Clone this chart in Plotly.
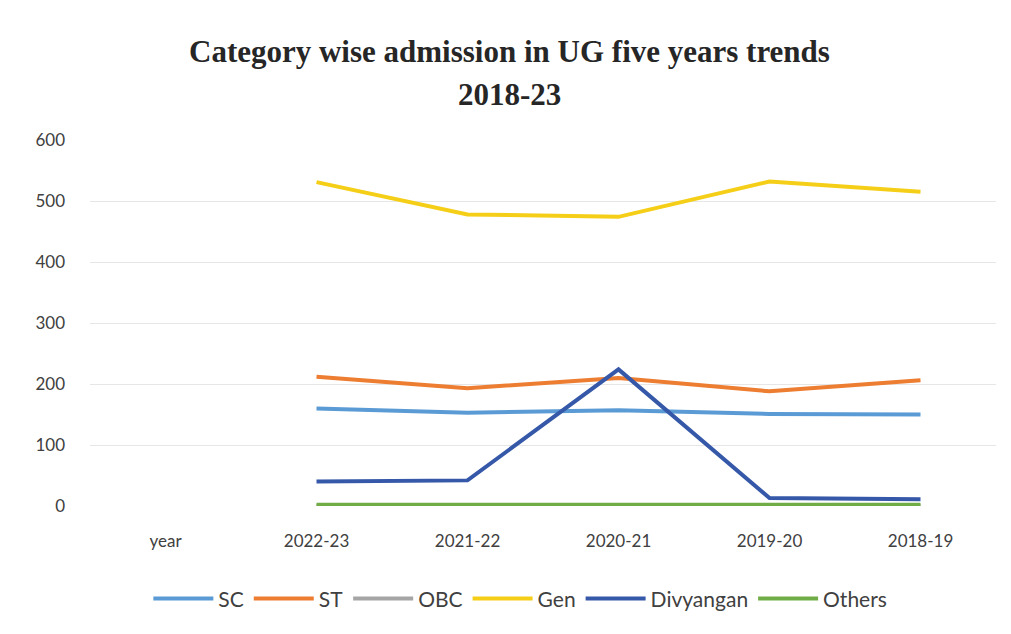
import plotly.graph_objects as go

categories = ["year", "2022-23", "2021-22", "2020-21", "2019-20", "2018-19"]
sc = [None, 160, 153, 157, 151, 150]
st = [None, 212, 193, 210, 188, 206]
obc = [None, 0, 0, 0, 0, 0]
gen = [None, 531, 478, 474, 532, 515]
divyangan = [None, 40, 42, 224, 13, 11]
others = [None, 2, 2, 2, 2, 2]

series = [
    ("SC", sc, "#5B9BD5"),
    ("ST", st, "#ED7D31"),
    ("OBC", obc, "#A5A5A5"),
    ("Gen", gen, "#F5CE18"),
    ("Divyangan", divyangan, "#3558A8"),
    ("Others", others, "#70AD47"),
]

fig = go.Figure()
for name, vals, color in series:
    fig.add_trace(go.Scatter(
        x=categories, y=vals, name=name, mode="lines",
        line=dict(color=color, width=4), connectgaps=False,
    ))

tick_font = dict(family="Lato, Liberation Sans, sans-serif", size=17, color="#404040")
title_font = dict(family="Liberation Serif, Times New Roman, serif", size=31, color="#262626")
cx = (501 - 82) / 906

fig.update_layout(
    width=1011, height=634,
    margin=dict(l=82, r=23, t=132, b=136),
    paper_bgcolor="white", plot_bgcolor="white",
    showlegend=True,
    legend=dict(orientation="h", x=0.475, xanchor="center", y=-0.254, yanchor="middle",
                font=dict(family="Lato, Liberation Sans, sans-serif", size=21, color="#404040"),
                itemwidth=60, tracegroupgap=0),
    annotations=[
        dict(text="<b>Category wise admission in UG five years trends</b>", xref="paper", yref="paper",
             x=cx, y=1 + (145 - 44 - 13) / 366, xanchor="center", yanchor="middle",
             showarrow=False, font=title_font),
        dict(text="<b>2018-23</b>", xref="paper", yref="paper",
             x=cx, y=1 + (145 - 86 - 13) / 366, xanchor="center", yanchor="middle",
             showarrow=False, font=title_font),
    ],
)
fig.update_xaxes(type="category", range=[-0.5, 5.5], showgrid=False, showline=False, zeroline=False,
                 tickfont=tick_font, ticks="", ticklabelstandoff=23)
fig.update_yaxes(range=[0, 600], dtick=100, showgrid=True, gridcolor="#E6E6E6", gridwidth=1,
                 zeroline=False, showline=False, tickfont=tick_font, ticks="", ticklabelstandoff=24)

fig.write_html("out.html")
